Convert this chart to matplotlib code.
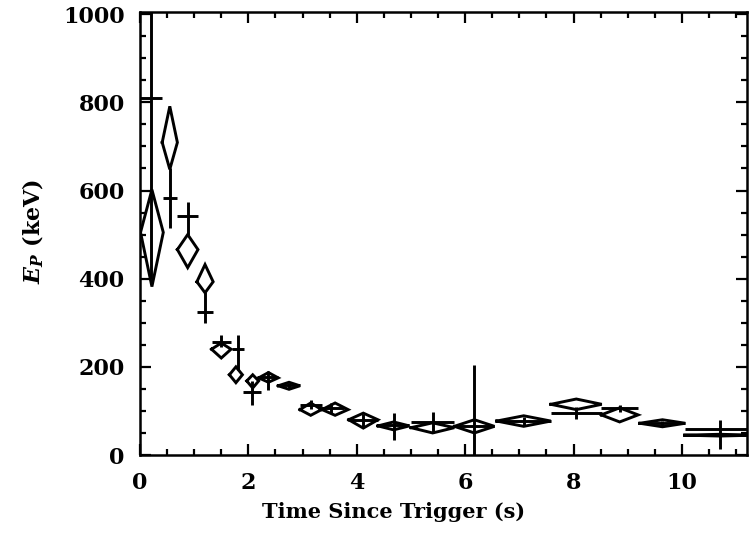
import numpy as np
import matplotlib
matplotlib.use("Agg")
import matplotlib.pyplot as plt
from matplotlib.ticker import MultipleLocator

plt.rcParams["font.family"] = "DejaVu Serif"
plt.rcParams["font.weight"] = "bold"
plt.rcParams["mathtext.fontset"] = "custom"
plt.rcParams["mathtext.rm"] = "DejaVu Serif:bold"
plt.rcParams["mathtext.it"] = "DejaVu Serif:italic:bold"

# diamond series: centre, half-width in time, upper / lower extent in Ep
dia_t = [0.22, 0.55, 0.88, 1.20, 1.50, 1.77, 2.08, 2.37, 2.75, 3.15,
         3.60, 4.12, 4.68, 5.40, 6.17, 7.08, 8.05, 8.85, 9.64, 10.70]
dia_dt = [0.21, 0.14, 0.19, 0.15, 0.18, 0.12, 0.11, 0.18, 0.20, 0.20,
          0.24, 0.27, 0.29, 0.40, 0.37, 0.50, 0.47, 0.34, 0.42, 0.65]
dia_ep = [505, 709, 466, 393, 240, 182, 168, 175, 157, 103,
          103, 80, 66, 62, 65, 77, 115, 91, 72, 45]
dia_up = [97, 82, 34, 39, 14, 18, 14, 12, 8, 15,
          15, 15, 9, 11, 15, 12, 12, 16, 8, 2]
dia_dn = [123, 61, 41, 25, 20, 18, 16, 10, 8, 13,
          13, 19, 9, 12, 15, 12, 12, 16, 8, 2]

# cross series: plain error bars
crs_t = [0.20, 0.55, 0.88, 1.20, 1.50, 1.81, 2.07, 2.37, 2.75, 3.15,
         3.52, 4.12, 4.68, 5.40, 6.16, 7.08, 8.05, 8.85, 9.64, 10.70]
crs_dt = [0.21, 0.13, 0.19, 0.14, 0.18, 0.11, 0.17, 0.18, 0.20, 0.20,
          0.24, 0.27, 0.29, 0.40, 0.37, 0.50, 0.47, 0.34, 0.42, 0.65]
crs_ep = [809, 582, 543, 325, 257, 241, 143, 178, 158, 114,
          107, 80, 68, 75, 65, 77, 95, 106, 72, 60]
crs_up = [400, 70, 30, 45, 16, 32, 25, 13, 6, 11,
          12, 14, 27, 23, 140, 10, 13, 8, 6, 20]
crs_dn = [409, 66, 45, 25, 12, 48, 30, 30, 6, 10,
          12, 16, 34, 25, 65, 10, 13, 8, 6, 47]

fig = plt.figure(figsize=(7.51, 5.37), dpi=100, facecolor="white")
ax = fig.add_axes([0.1864, 0.1527, 0.8083, 0.825])

# diamonds: polygon through the four error extremes
for t, dt, e, up, dn in zip(dia_t, dia_dt, dia_ep, dia_up, dia_dn):
    xs = [t - dt, t, t + dt, t, t - dt]
    ys = [e, e + up, e, e - dn, e]
    ax.plot(xs, ys, color="black", lw=2.1, solid_joinstyle="miter")

ax.errorbar(crs_t, crs_ep, xerr=crs_dt,
            yerr=[crs_dn, crs_up], fmt="none", ecolor="black",
            elinewidth=2.1, capsize=0)

ax.set_xlim(0, 11.2)
ax.set_ylim(0, 1005)
ax.xaxis.set_major_locator(MultipleLocator(2))
ax.xaxis.set_minor_locator(MultipleLocator(0.5))
ax.yaxis.set_major_locator(MultipleLocator(200))
ax.yaxis.set_minor_locator(MultipleLocator(50))

ax.tick_params(which="both", direction="in", top=True, right=True,
               width=1.6, colors="black", labelsize=16)
ax.tick_params(which="major", length=8)
ax.tick_params(which="minor", length=4)
ax.tick_params(axis="x", pad=12)
ax.tick_params(axis="y", pad=11)
for s in ax.spines.values():
    s.set_linewidth(1.8)

ax.set_xlabel("Time Since Trigger (s)", fontsize=15, fontweight="bold")
ax.xaxis.set_label_coords(0.417, -0.105)
ax.set_ylabel(r"$E_P$ (keV)", fontsize=16, fontweight="bold")
ax.yaxis.set_label_coords(-0.155, 0.505)

fig.savefig("out.png", dpi=100, facecolor="white")
